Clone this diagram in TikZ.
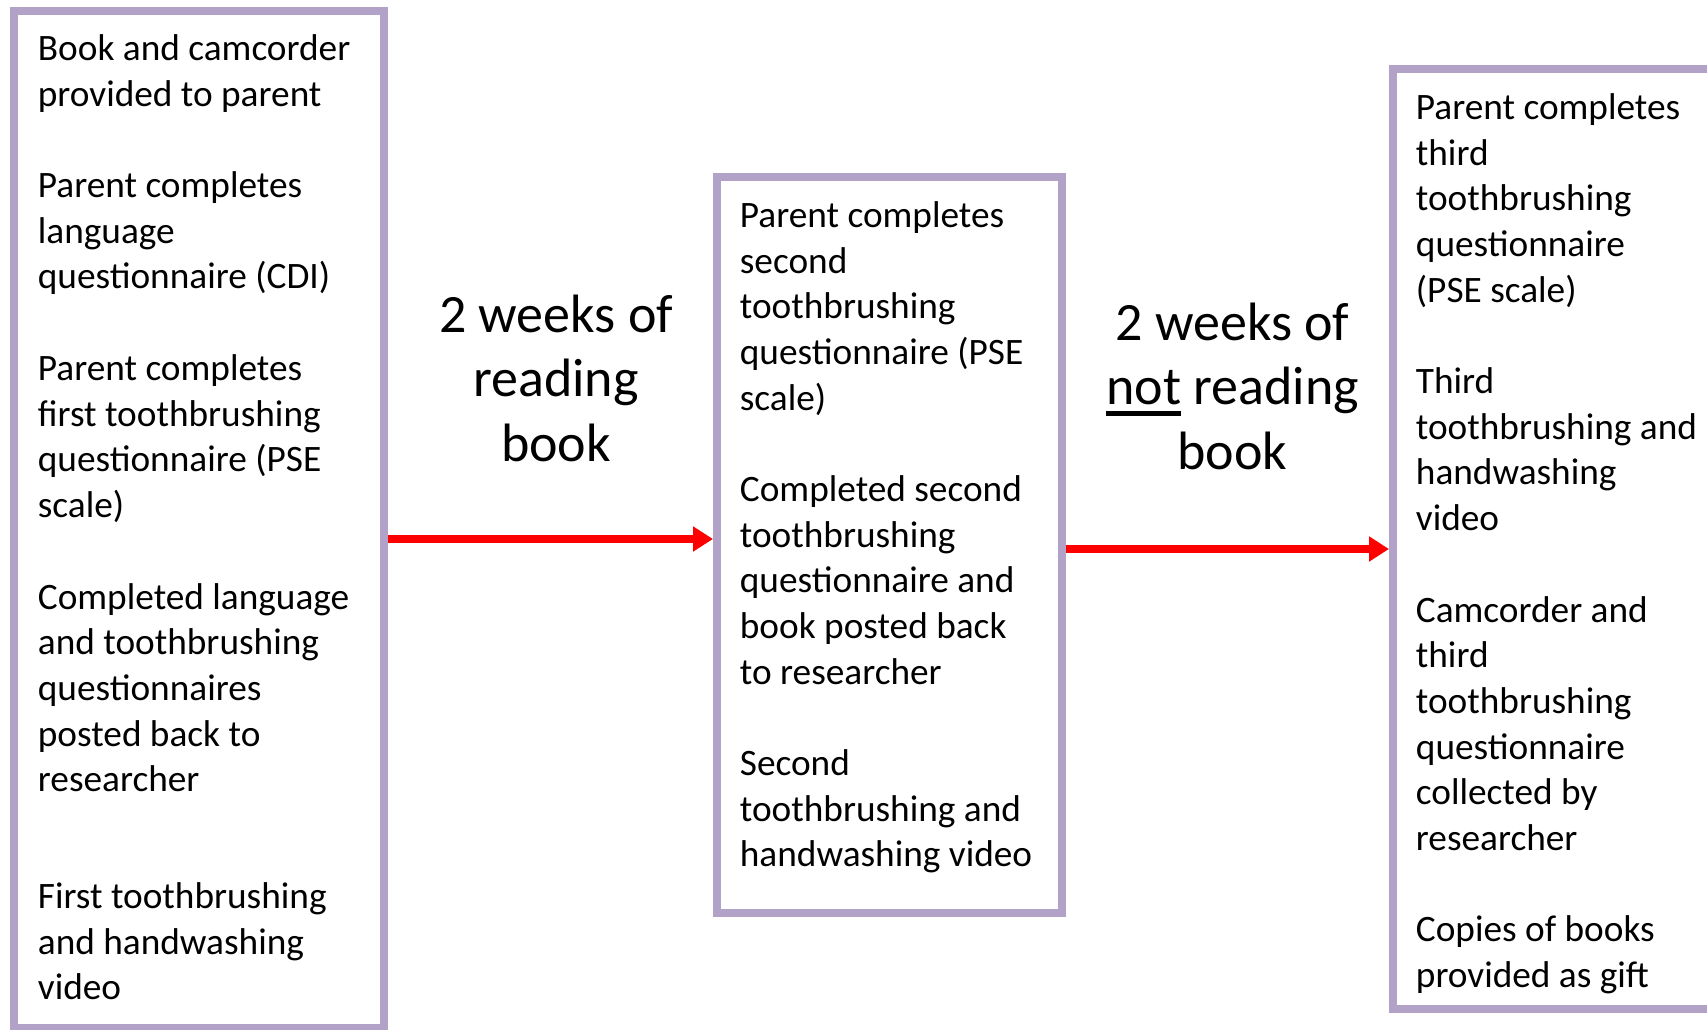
\documentclass[tikz,border=0pt]{standalone}
\usepackage{fontspec}
\setmainfont{Carlito}
\usetikzlibrary{arrows.meta}
\definecolor{boxpurple}{RGB}{178,162,199}
\newsavebox\ulbox
\newcommand\ulword[1]{\sbox\ulbox{#1}\rlap{\raisebox{-11pt}{\rule{\wd\ulbox}{5pt}}}\usebox\ulbox}
\begin{document}
\begin{tikzpicture}[x=1pt,y=-1pt,
  box/.style={draw=boxpurple, line width=8pt, inner sep=0pt},
  body/.style={anchor=base west, align=left, inner sep=0pt, font=\fontsize{37.3}{45.7}\selectfont},
  mid/.style={anchor=base, align=center, inner sep=0pt, font=\fontsize{54}{64.8}\selectfont},
  arr/.style={draw=red, line width=8pt, -{Triangle[length=20pt,width=24pt]}}]
\clip (0,0) rectangle (1707,1030);
\fill[white] (0,0) rectangle (1707,1030);
% boxes
\node[box, minimum width=370.5pt, minimum height=1017pt] (b1) at (198.75,519.5) {};
\node[box, minimum width=345pt, minimum height=736pt] (b2) at (889.5,545) {};
\node[box, minimum width=327pt, minimum height=940pt] (b3) at (1556.5,539) {};
% box 1 text (anchor = baseline of last line)
\node[body] (t1a) at (37.7,106.2) {Book and camcorder\\provided to parent};
\node[body] (t1b) at (37.7,288.9) {Parent completes\\language\\questionnaire (CDI)};
\node[body] (t1c) at (37.7,517.6) {Parent completes\\first toothbrushing\\questionnaire (PSE\\scale)};
\node[body] (t1d) at (37.7,791.8) {Completed language\\and toothbrushing\\questionnaires\\posted back to\\researcher};
\node[body] (t1e) at (37.7,999.9) {First toothbrushing\\and handwashing\\video};
% box 2 text
\node[body] (t2a) at (739.7,410.3) {Parent completes\\second\\toothbrushing\\questionnaire (PSE\\scale)};
\node[body] (t2b) at (739.7,684.3) {Completed second\\toothbrushing\\questionnaire and\\book posted back\\to researcher};
\node[body] (t2c) at (739.7,866.9) {Second\\toothbrushing and\\handwashing video};
% box 3 text
\node[body] (t3a) at (1415.7,302.3) {Parent completes\\third\\toothbrushing\\questionnaire\\(PSE scale)};
\node[body] (t3b) at (1415.7,530.6) {Third\\toothbrushing and\\handwashing\\video};
\node[body] (t3c) at (1415.7,850.5) {Camcorder and\\third\\toothbrushing\\questionnaire\\collected by\\researcher};
\node[body] (t3d) at (1415.7,987.2) {Copies of books\\provided as gift};
% middle labels
\node[mid] (m1) at (556,461.6) {2 weeks of\\reading\\book};
\node[mid] (m2) at (1232.5,469.6) {2 weeks of\\\ulword{not} reading\\book};
% arrows
\coordinate (ya) at (0,539);
\coordinate (yb) at (0,549);
\draw[arr] (b1.east |- ya) -- (b2.west |- ya);
\draw[arr] (b2.east |- yb) -- (b3.west |- yb);
\end{tikzpicture}
\end{document}
